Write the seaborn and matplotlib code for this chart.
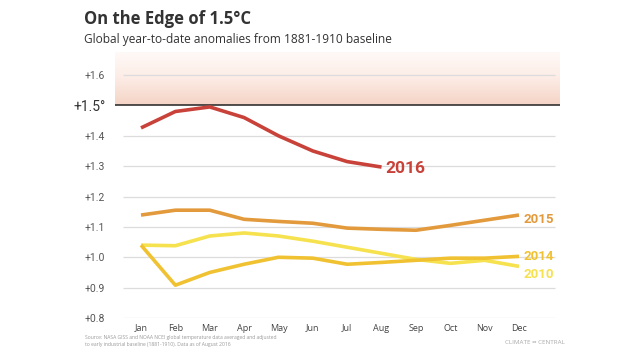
import numpy as np
import pandas as pd
import matplotlib
matplotlib.use("Agg")
import matplotlib.pyplot as plt
from matplotlib.colors import LinearSegmentedColormap
import seaborn as sns

months = ["Jan", "Feb", "Mar", "Apr", "May", "Jun",
          "Jul", "Aug", "Sep", "Oct", "Nov", "Dec"]
y2016 = [1.426, 1.48, 1.495, 1.46, 1.40, 1.35, 1.315, 1.297]
y2015 = [1.139, 1.155, 1.155, 1.125, 1.118, 1.112, 1.096, 1.092, 1.089, 1.105, 1.122, 1.139]
y2014 = [1.04, 0.908, 0.95, 0.977, 1.0, 0.997, 0.977, 0.983, 0.99, 0.997, 0.997, 1.003]
y2010 = [1.04, 1.038, 1.07, 1.08, 1.07, 1.053, 1.033, 1.013, 0.993, 0.98, 0.99, 0.97]
yticks = [0.8, 0.9, 1.0, 1.1, 1.2, 1.3, 1.4, 1.5, 1.6]
threshold = 1.5

series = {"2010": y2010, "2014": y2014, "2015": y2015, "2016": y2016}
colors = {"2016": "#c9423a", "2015": "#e29a3c", "2014": "#f0c232", "2010": "#f6e14e"}

rows = []
for yr, vals in series.items():
    for i, v in enumerate(vals):
        rows.append({"month": i, "anomaly": v, "year": yr})
df = pd.DataFrame(rows)

sns.set_style("white")
plt.rcParams["font.family"] = ["Open Sans", "DejaVu Sans"]
num_font = ["Roboto", "DejaVu Sans"]

fig = plt.figure(figsize=(6.38, 3.59), dpi=100)
ax = fig.add_axes([115 / 638, 1 - 318 / 359, 445 / 638, (318 - 52) / 359])

x0 = -26 / 34.36
x1 = 11 + 41 / 34.36
ytop = 1.6 + 23 / 303.0
ax.set_xlim(x0, x1)
ax.set_ylim(0.8, ytop)

# gradient band above 1.5
cmap = LinearSegmentedColormap.from_list("band", ["#f5d4c6", "#fcece5", "#fffaf8"])
grad = np.linspace(0, 1, 100).reshape(-1, 1)
ax.imshow(grad, cmap=cmap, aspect="auto", origin="lower",
          extent=[x0, x1, threshold, ytop], zorder=0)

gx0 = (123 - 115) / 445
gx1 = (555 - 115) / 445
for t in yticks:
    if t == threshold:
        ax.axhline(t, color="#222222", lw=1.1, zorder=1)
    else:
        ax.axhline(t, xmin=gx0, xmax=gx1, color="#dcdcdc", lw=0.9, zorder=1)

sns.lineplot(data=df, x="month", y="anomaly", hue="year", palette=colors,
             hue_order=["2010", "2014", "2015", "2016"], lw=2.6, legend=False,
             ax=ax, zorder=3)
for line in ax.get_lines():
    line.set_solid_joinstyle("round")
    line.set_solid_capstyle("butt")

label_off = {"2016": (3, -1, 12.5), "2015": (3, -3, 9.5), "2014": (3, 0, 9.5), "2010": (3, -6, 9.5)}
for yr, vals in series.items():
    dx, dy, fs = label_off[yr]
    ax.annotate(yr, (len(vals) - 1, vals[-1]), xytext=(dx, dy),
                textcoords="offset points", va="center", ha="left",
                color=colors[yr], fontsize=fs, fontweight="bold",
                family=num_font, annotation_clip=False)

for s in ax.spines.values():
    s.set_visible(False)
ax.set_xticks(range(12))
ax.set_xticklabels(months, fontsize=6.5, color="#444444")
ax.set_yticks(yticks)
ylabels = []
for t in yticks:
    ylabels.append("+%.1f°" % t if t == threshold else "+%.1f" % t)
ax.set_yticklabels(ylabels, family=num_font)
for lbl, t in zip(ax.get_yticklabels(), yticks):
    if t == threshold:
        lbl.set_fontsize(10)
        lbl.set_color("#333333")
    else:
        lbl.set_fontsize(7.5)
        lbl.set_color("#555555")
ax.tick_params(axis="both", length=0)
ax.tick_params(axis="y", pad=7)
ax.tick_params(axis="x", pad=4)
ax.set_xlabel("")
ax.set_ylabel("")

fig.text(84 / 638, 1 - 19 / 359, "On the Edge of 1.5°C", fontsize=12,
         fontweight="bold", color="#333333", va="center")
fig.text(84 / 638, 1 - 39 / 359, "Global year-to-date anomalies from 1881-1910 baseline",
         fontsize=8.6, color="#333333", va="center")
fig.text(85 / 638, 1 - 341 / 359,
         "Source: NASA GISS and NOAA NCEI global temperature data averaged and adjusted\n"
         "to early industrial baseline (1881-1910). Data as of August 2016",
         fontsize=3.6, color="#999999", va="center", linespacing=1.5)
fig.text(565 / 638, 1 - 342 / 359, "CLIMATE ∞ CENTRAL", fontsize=4.5,
         color="#aaaaaa", va="center", ha="right")

fig.savefig("out.png", dpi=100, facecolor="white")
